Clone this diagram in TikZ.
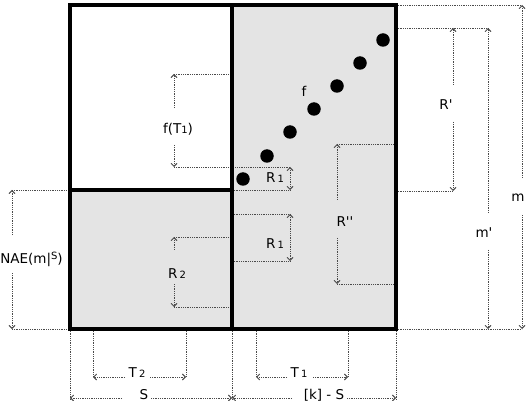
\documentclass[tikz,border=0pt]{standalone}
\usepackage{fontspec}
\setmainfont{DejaVu Sans}[Ligatures=TeXOff]
\usetikzlibrary{arrows.meta}
\definecolor{boxgray}{HTML}{E4E4E4}
\definecolor{dimc}{HTML}{4A4A4A}
\newcommand{\sbx}[1]{{\fontsize{10}{10}\selectfont #1}}
\begin{document}
\begin{tikzpicture}[x=1pt,y=-1pt,
  dimline/.style={dimc, line width=0.9pt, dash pattern=on 0.9pt off 0.9pt},
  dimarrow/.style={dimline, -{Straight Barb[length=3pt,width=6pt]}},
  boxline/.style={line width=3.4pt, black, line join=miter},
  lbl/.style={font=\fontsize{13.5}{13.5}\selectfont, inner sep=0pt, anchor=base},
  dotnode/.style={circle, fill=black, minimum size=13.5pt, inner sep=0pt}]
\useasboundingbox (0,0) rectangle (528,401);
% fills
\fill[boxgray] (232,5) rectangle (396,329);
\fill[boxgray] (70,190) rectangle (232,329);
% extension lines
\draw[dimline] (174,74) -- (232,74);
\draw[dimline] (174,167) -- (290,167);
\draw[dimline] (232,190) -- (290,190);
\draw[dimline] (12,190) -- (70,190);
\draw[dimline] (232,214) -- (290,214);
\draw[dimline] (232,261) -- (290,261);
\draw[dimline] (174,237) -- (232,237);
\draw[dimline] (174,307) -- (232,307);
\draw[dimline] (337,144) -- (396,144);
\draw[dimline] (337,284) -- (396,284);
\draw[dimline] (396,28) -- (488,28);
\draw[dimline] (396,191) -- (453,191);
\draw[dimline] (396,5) -- (522,5);
\draw[dimline] (12,329) -- (70,329);
\draw[dimline] (396,329) -- (522,329);
\draw[dimline] (70,329) -- (70,401);
\draw[dimline] (93,329) -- (93,377);
\draw[dimline] (186,329) -- (186,377);
\draw[dimline] (232,329) -- (232,401);
\draw[dimline] (256,329) -- (256,377);
\draw[dimline] (348,329) -- (348,377);
\draw[dimline] (396,329) -- (396,401);
% box
\draw[boxline] (70,5) rectangle (396,329);
\draw[boxline] (232,5) -- (232,329);
\draw[boxline] (70,190) -- (232,190);
% dots
\node[dotnode] (d1) at (243,179) {};
\node[dotnode] (d2) at (267,156) {};
\node[dotnode] (d3) at (290,132) {};
\node[dotnode] (d4) at (314,109) {};
\node[dotnode] (d5) at (337,86) {};
\node[dotnode] (d6) at (360,63) {};
\node[dotnode] (d7) at (383,40) {};
% labels
\node[lbl] (lf) at (304,97) {f};
\node[lbl] (lfT) at (178,134) {f(T\sbx{1})};
\node[lbl] (lRa) at (275,183) {R\,\sbx{1}};
\node[lbl] (lRb) at (275,248) {R\,\sbx{1}};
\node[lbl] (lRc) at (177,279) {R\,\sbx{2}};
\node[lbl] (lNAE) at (31.5,263) {NAE(m|\raisebox{3.5pt}{\sbx{S}})};
\node[lbl] (lRpp) at (345,226) {R''};
\node[lbl] (lRp) at (446,110) {R'};
\node[lbl] (lmp) at (484,237) {m'};
\node[lbl] (lm) at (518,202) {m};
\node[lbl] (lT2) at (137,377) {T\,\sbx{2}};
\node[lbl] (lT1) at (299,377) {T\,\sbx{1}};
\node[lbl] (lS) at (144,399) {S};
\node[lbl] (lkS) at (324,399) {[k] - S};
% coordinates for dimension arrows
\coordinate (fTt) at (174,74);   \coordinate (fTg) at (174,108);
\coordinate (fTh) at (174,145);  \coordinate (fTb) at (174,167);
\coordinate (R2t) at (174,237);  \coordinate (R2g) at (174,250);
\coordinate (R2h) at (174,284);  \coordinate (R2b) at (174,307);
\coordinate (Nt) at (12,190);    \coordinate (Ng) at (12,235);
\coordinate (Nh) at (12,273);    \coordinate (Nb) at (12,329);
\coordinate (Rat) at (290,167);  \coordinate (Rab) at (290,190);
\coordinate (Rbt) at (290,214);  \coordinate (Rbb) at (290,261);
\coordinate (Rppt) at (337,144); \coordinate (Rppg) at (337,200);
\coordinate (Rpph) at (337,238); \coordinate (Rppb) at (337,284);
\coordinate (Rpt) at (453,28);   \coordinate (Rpg) at (453,85);
\coordinate (Rph) at (453,122);  \coordinate (Rpb) at (453,191);
\coordinate (mpt) at (488,28);   \coordinate (mpg) at (488,213);
\coordinate (mph) at (488,250);  \coordinate (mpb) at (488,329);
\coordinate (mt) at (522,5);     \coordinate (mg) at (522,178);
\coordinate (mh) at (522,215);   \coordinate (mb) at (522,329);
\coordinate (T2l) at (93,377);   \coordinate (T2g) at (125,377);
\coordinate (T2h) at (150,377);  \coordinate (T2r) at (186,377);
\coordinate (T1l) at (256,377);  \coordinate (T1g) at (287,377);
\coordinate (T1h) at (313,377);  \coordinate (T1r) at (348,377);
\coordinate (Sl) at (70,398);    \coordinate (Sg) at (122,398);
\coordinate (Sh) at (151,398);   \coordinate (Sr) at (232,398);
\coordinate (kl) at (232,398);   \coordinate (kg) at (292,398);
\coordinate (kh) at (347,398);   \coordinate (kr) at (396,398);
% dimension arrows
\draw[dimarrow] (fTg) -- (fTt); \draw[dimarrow] (fTh) -- (fTb);
\draw[dimarrow] (R2g) -- (R2t); \draw[dimarrow] (R2h) -- (R2b);
\draw[dimarrow] (Ng) -- (Nt);   \draw[dimarrow] (Nh) -- (Nb);
\draw[dimline, {Straight Barb[length=3pt,width=6pt]}-{Straight Barb[length=3pt,width=6pt]}] (Rat) -- (Rab);
\draw[dimline, {Straight Barb[length=3pt,width=6pt]}-{Straight Barb[length=3pt,width=6pt]}] (Rbt) -- (Rbb);
\draw[dimarrow] (Rppg) -- (Rppt); \draw[dimarrow] (Rpph) -- (Rppb);
\draw[dimarrow] (Rpg) -- (Rpt); \draw[dimarrow] (Rph) -- (Rpb);
\draw[dimarrow] (mpg) -- (mpt); \draw[dimarrow] (mph) -- (mpb);
\draw[dimarrow] (mg) -- (mt);   \draw[dimarrow] (mh) -- (mb);
\draw[dimarrow] (T2g) -- (T2l); \draw[dimarrow] (T2h) -- (T2r);
\draw[dimarrow] (T1g) -- (T1l); \draw[dimarrow] (T1h) -- (T1r);
\draw[dimarrow] (Sg) -- (Sl);   \draw[dimarrow] (Sh) -- (Sr);
\draw[dimarrow] (kg) -- (kl);   \draw[dimarrow] (kh) -- (kr);
\end{tikzpicture}
\end{document}
